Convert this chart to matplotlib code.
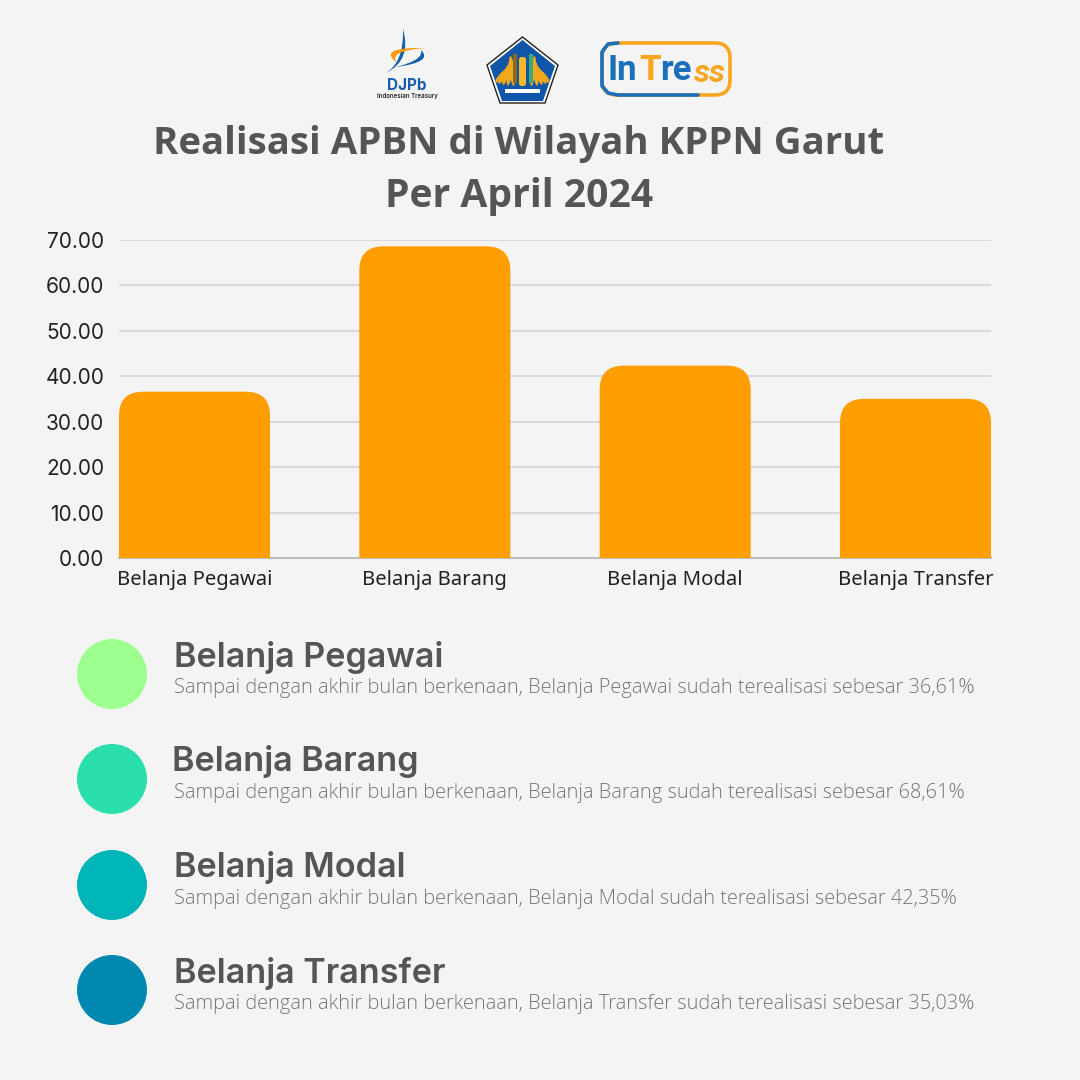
import matplotlib
matplotlib.use('Agg')
import matplotlib.pyplot as plt
from matplotlib.patches import Circle, Ellipse, FancyBboxPatch, PathPatch, Polygon, Rectangle
from matplotlib.path import Path

categories = ['Belanja Pegawai', 'Belanja Barang', 'Belanja Modal', 'Belanja Transfer']
realisasi = [36.61, 68.61, 42.35, 35.03]
realisasi_text = ['36,61%', '68,61%', '42,35%', '35,03%']
y_ticks = [0, 10, 20, 30, 40, 50, 60, 70]
dot_colors = ['#9DFF8F', '#2ADFAC', '#00B5B8', '#0088B0']

BG = '#F4F4F4'
DARK = '#555555'
ORANGE = '#FF9E00'
LOGO_BLUE = '#1B6FBB'
LOGO_ORANGE = '#F8A51F'


# Bar with rounded top corners, radius given in pixels so it stays circular
def rounded_bar(ax, x, w, h, rx, ry, color):
    l, r = x - w / 2, x + w / 2
    ry = min(ry, h)
    verts = [(l, 0), (l, h - ry), (l, h), (l + rx, h), (r - rx, h), (r, h), (r, h - ry), (r, 0), (l, 0)]
    codes = [Path.MOVETO, Path.LINETO, Path.CURVE3, Path.CURVE3, Path.LINETO,
             Path.CURVE3, Path.CURVE3, Path.LINETO, Path.CLOSEPOLY]
    ax.add_patch(PathPatch(Path(verts, codes), facecolor=color, edgecolor='none', zorder=3))


# Closed crescent between two quadratic curves, used for the DJPb swoosh
def crescent(ax, a, c1, b, c2, color):
    verts = [a, c1, b, c2, a, a]
    codes = [Path.MOVETO, Path.CURVE3, Path.CURVE3, Path.CURVE3, Path.CURVE3, Path.CLOSEPOLY]
    ax.add_patch(PathPatch(Path(verts, codes), facecolor=color, edgecolor='none'))


fig = plt.figure(figsize=(10.8, 10.8), dpi=100, facecolor=BG)

# overlay in pixel coordinates for logos and text blocks
page = fig.add_axes([0, 0, 1, 1])
page.set_xlim(0, 1080)
page.set_ylim(1080, 0)
page.axis('off')

# chart
ax = fig.add_axes([119 / 1080, 1 - 558 / 1080, 872 / 1080, 318 / 1080], facecolor='none')
x_px = 240.3
bar_w = 151 / x_px
ax.set_xlim(-bar_w / 2, 3 + bar_w / 2)
ax.set_ylim(0, 70)
for i, v in enumerate(realisasi):
    rounded_bar(ax, i, bar_w, v, 24 / x_px, 24 * 70 / 318, ORANGE)
ax.set_yticks(y_ticks)
ax.set_yticklabels(['%.2f' % t for t in y_ticks], family='Inter', fontsize=15, color='#222222')
ax.set_xticks(range(4))
ax.set_xticklabels(categories, family='Noto Sans', fontsize=14.6, color='#222222')
ax.tick_params(length=0)
ax.tick_params(axis='y', pad=10.5)
ax.tick_params(axis='x', pad=8.5)
ax.grid(axis='y', color='#D2D2D2', linewidth=1.1, zorder=0)
ax.set_axisbelow(True)
for s in ['top', 'right', 'left']:
    ax.spines[s].set_visible(False)
ax.spines['bottom'].set_color('#BDBDBD')
ax.spines['bottom'].set_linewidth(1.5)

# title
page.text(519, 144, 'Realisasi APBN di Wilayah KPPN Garut', ha='center', va='center',
          family='Open Sans', weight='bold', fontsize=27.6, color=DARK)
page.text(519, 197, 'Per April 2024', ha='center', va='center',
          family='Open Sans', weight='bold', fontsize=28.2, color=DARK)

# explanation rows
row_y = [674, 779, 885, 990]
name_x = [174, 172, 174, 174]
for name, txt, c, y, nx in zip(categories, realisasi_text, dot_colors, row_y, name_x):
    page.add_patch(Circle((112, y), 35, facecolor=c, edgecolor='none'))
    page.text(nx, y - 17, name, ha='left', va='center', family='Inter', weight='semibold',
              fontsize=24.6, color=DARK)
    page.text(174, y + 14, 'Sampai dengan akhir bulan berkenaan, %s sudah terealisasi sebesar %s' % (name, txt),
              ha='left', va='center', family='Open Sans', weight='light', fontsize=14.45, color='#757575')

# logo DJPb
crescent(page, (403, 29), (412, 60), (386, 73), (404, 62), '#1560A8')
crescent(page, (425, 48), (376, 47), (397, 63), (387, 51), '#F59A00')
crescent(page, (421, 50), (434, 62), (396, 67), (424, 60), '#1560A8')
page.text(407, 86, 'DJPb', ha='center', va='center', family='Inter', weight='bold', fontsize=11, color='#1560A8')
page.text(407, 96, 'Indonesian Treasury', ha='center', va='center', family='Inter', weight='semibold', fontsize=4.4, color='#222222')

# logo Kemenkeu pentagon
page.add_patch(Polygon([(522.5, 37), (558, 65), (545, 103), (500, 103), (487, 65)], closed=True,
                       facecolor='white', edgecolor='#222222', lw=1.0))
page.add_patch(Polygon([(522.5, 40), (555, 66), (543, 101), (502, 101), (490, 66)], closed=True,
                       facecolor='#0F56A8', edgecolor='none'))
for k in range(5):
    page.add_patch(Ellipse((512 - k * 2.6, 71 + k * 1.2), 5, 30 - k * 3, angle=k * 12 - 6,
                           facecolor='#F2A81D', edgecolor='none'))
    page.add_patch(Ellipse((533 + k * 2.6, 71 + k * 1.2), 5, 30 - k * 3, angle=6 - k * 12,
                           facecolor='#F2A81D', edgecolor='none'))
page.add_patch(FancyBboxPatch((519, 57), 7, 29, boxstyle='round,pad=0,rounding_size=2.5',
                              facecolor='#F8B62B', edgecolor='none'))
page.add_patch(Rectangle((513, 54), 3.5, 29, facecolor='#8A6A1E', edgecolor='none'))
page.add_patch(Rectangle((529, 54), 3.5, 29, facecolor='#3DA878', edgecolor='none'))
page.add_patch(Rectangle((505, 89), 35, 3.5, facecolor='white', edgecolor='none'))

# logo InTress
page.add_patch(FancyBboxPatch((602, 43), 128, 52, boxstyle='round,pad=0,rounding_size=15',
                              facecolor='none', edgecolor=LOGO_ORANGE, lw=2.6))
page.plot([618, 608, 602, 602, 608, 618, 698], [43, 44, 52, 86, 93, 95, 95],
          color=LOGO_BLUE, lw=2.6, solid_capstyle='round', solid_joinstyle='round')
logo_parts = [('In', 608, LOGO_BLUE), ('T', 639, LOGO_ORANGE), ('re', 660, LOGO_BLUE)]
for part, x, c in logo_parts:
    page.text(x, 71, part, ha='left', va='center', family='Roboto', weight='bold', fontsize=25, color=c)
page.text(694, 73, 'ss', ha='left', va='center', family='Roboto', weight='bold', style='italic',
          fontsize=23, color=LOGO_ORANGE)

fig.savefig('out.png', dpi=100, facecolor=BG)
plt.close()
